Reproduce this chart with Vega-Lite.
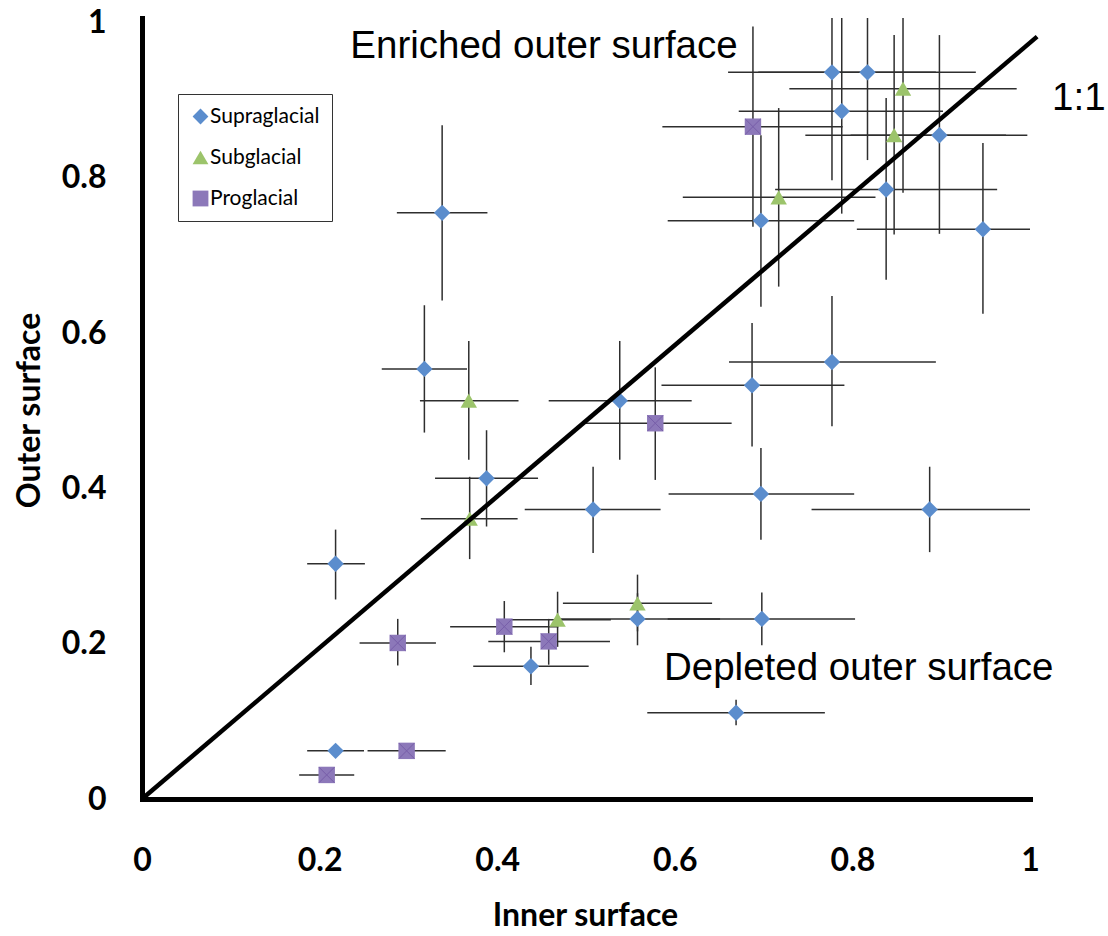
{
  "$schema": "https://vega.github.io/schema/vega-lite/v6.json",
  "width": 888,
  "height": 781,
  "autosize": {"type": "none"},
  "padding": {"left": 142, "top": 18, "right": 78, "bottom": 137},
  "background": "white",
  "config": {
    "view": {"stroke": null},
    "font": "Lato",
    "axis": {
      "grid": false, "ticks": false, "tickSize": 0,
      "domainColor": "black", "domainWidth": 5, "domainCap": "square",
      "labelFont": "Lato", "labelFontWeight": "bold", "labelFontSize": 32, "labelColor": "black",
      "labelFlush": false, "labelOverlap": false,
      "titleFont": "Lato", "titleFontWeight": "bold", "titleFontSize": 32, "titleColor": "black",
      "titleAlign": "center", "titleBaseline": "alphabetic"
    },
    "axisX": {"labelBaseline": "alphabetic", "labelPadding": 71, "titleX": 443, "titleY": 126},
    "axisY": {"labelPadding": 36, "titleX": -103, "titleY": 392, "titleAngle": -90}
  },
  "datasets": {
    "pts": [
      {"type": "Supraglacial", "x": 0.777, "y": 0.936, "xlo": 0.660, "xhi": 0.894, "ylo": 0.797, "yhi": 1.074},
      {"type": "Supraglacial", "x": 0.817, "y": 0.936, "xlo": 0.694, "xhi": 0.939, "ylo": 0.823, "yhi": 1.049},
      {"type": "Supraglacial", "x": 0.788, "y": 0.886, "xlo": 0.672, "xhi": 0.902, "ylo": 0.754, "yhi": 1.019},
      {"type": "Supraglacial", "x": 0.898, "y": 0.855, "xlo": 0.798, "xhi": 0.997, "ylo": 0.728, "yhi": 0.984},
      {"type": "Supraglacial", "x": 0.838, "y": 0.785, "xlo": 0.713, "xhi": 0.963, "ylo": 0.669, "yhi": 0.903},
      {"type": "Supraglacial", "x": 0.697, "y": 0.745, "xlo": 0.592, "xhi": 0.802, "ylo": 0.634, "yhi": 0.855},
      {"type": "Supraglacial", "x": 0.947, "y": 0.734, "xlo": 0.805, "xhi": 1.090, "ylo": 0.625, "yhi": 0.845},
      {"type": "Supraglacial", "x": 0.338, "y": 0.755, "xlo": 0.287, "xhi": 0.389, "ylo": 0.642, "yhi": 0.868},
      {"type": "Supraglacial", "x": 0.318, "y": 0.554, "xlo": 0.270, "xhi": 0.366, "ylo": 0.472, "yhi": 0.636},
      {"type": "Supraglacial", "x": 0.538, "y": 0.513, "xlo": 0.458, "xhi": 0.619, "ylo": 0.437, "yhi": 0.590},
      {"type": "Supraglacial", "x": 0.687, "y": 0.533, "xlo": 0.585, "xhi": 0.791, "ylo": 0.454, "yhi": 0.613},
      {"type": "Supraglacial", "x": 0.777, "y": 0.563, "xlo": 0.661, "xhi": 0.894, "ylo": 0.480, "yhi": 0.648},
      {"type": "Supraglacial", "x": 0.388, "y": 0.413, "xlo": 0.330, "xhi": 0.446, "ylo": 0.351, "yhi": 0.475},
      {"type": "Supraglacial", "x": 0.508, "y": 0.373, "xlo": 0.431, "xhi": 0.584, "ylo": 0.317, "yhi": 0.428},
      {"type": "Supraglacial", "x": 0.697, "y": 0.393, "xlo": 0.593, "xhi": 0.802, "ylo": 0.334, "yhi": 0.452},
      {"type": "Supraglacial", "x": 0.887, "y": 0.373, "xlo": 0.754, "xhi": 1.019, "ylo": 0.318, "yhi": 0.428},
      {"type": "Supraglacial", "x": 0.218, "y": 0.303, "xlo": 0.186, "xhi": 0.251, "ylo": 0.257, "yhi": 0.347},
      {"type": "Supraglacial", "x": 0.558, "y": 0.232, "xlo": 0.465, "xhi": 0.651, "ylo": 0.198, "yhi": 0.265},
      {"type": "Supraglacial", "x": 0.698, "y": 0.232, "xlo": 0.592, "xhi": 0.803, "ylo": 0.198, "yhi": 0.266},
      {"type": "Supraglacial", "x": 0.438, "y": 0.171, "xlo": 0.373, "xhi": 0.503, "ylo": 0.147, "yhi": 0.196},
      {"type": "Supraglacial", "x": 0.669, "y": 0.111, "xlo": 0.569, "xhi": 0.769, "ylo": 0.095, "yhi": 0.128},
      {"type": "Supraglacial", "x": 0.218, "y": 0.062, "xlo": 0.186, "xhi": 0.250, "ylo": 0.059, "yhi": 0.065},
      {"type": "Subglacial", "x": 0.857, "y": 0.915, "xlo": 0.729, "xhi": 0.985, "ylo": 0.781, "yhi": 1.050},
      {"type": "Subglacial", "x": 0.847, "y": 0.855, "xlo": 0.747, "xhi": 0.973, "ylo": 0.727, "yhi": 0.984},
      {"type": "Subglacial", "x": 0.717, "y": 0.775, "xlo": 0.609, "xhi": 0.826, "ylo": 0.660, "yhi": 0.890},
      {"type": "Subglacial", "x": 0.368, "y": 0.513, "xlo": 0.313, "xhi": 0.424, "ylo": 0.437, "yhi": 0.590},
      {"type": "Subglacial", "x": 0.369, "y": 0.361, "xlo": 0.314, "xhi": 0.423, "ylo": 0.309, "yhi": 0.415},
      {"type": "Subglacial", "x": 0.468, "y": 0.231, "xlo": 0.407, "xhi": 0.528, "ylo": 0.196, "yhi": 0.267},
      {"type": "Subglacial", "x": 0.558, "y": 0.252, "xlo": 0.474, "xhi": 0.642, "ylo": 0.216, "yhi": 0.289},
      {"type": "Proglacial", "x": 0.688, "y": 0.866, "xlo": 0.586, "xhi": 0.789, "ylo": 0.737, "yhi": 0.995},
      {"type": "Proglacial", "x": 0.578, "y": 0.484, "xlo": 0.495, "xhi": 0.664, "ylo": 0.411, "yhi": 0.556},
      {"type": "Proglacial", "x": 0.288, "y": 0.201, "xlo": 0.245, "xhi": 0.331, "ylo": 0.172, "yhi": 0.232},
      {"type": "Proglacial", "x": 0.408, "y": 0.222, "xlo": 0.347, "xhi": 0.469, "ylo": 0.189, "yhi": 0.255},
      {"type": "Proglacial", "x": 0.458, "y": 0.203, "xlo": 0.390, "xhi": 0.527, "ylo": 0.173, "yhi": 0.232},
      {"type": "Proglacial", "x": 0.298, "y": 0.062, "xlo": 0.254, "xhi": 0.342, "ylo": 0.059, "yhi": 0.065},
      {"type": "Proglacial", "x": 0.208, "y": 0.031, "xlo": 0.177, "xhi": 0.239, "ylo": 0.028, "yhi": 0.034}
    ],
    "diag": [{"x": 0, "y": 0}, {"x": 1.008, "y": 0.982}],
    "notes": [
      {"label": "Enriched outer surface", "x": 0.2346, "y": 0.9541},
      {"label": "Depleted outer surface", "x": 0.5878, "y": 0.1533},
      {"label": "1:1", "x": 1.0248, "y": 0.8875}
    ]
  },
  "layer": [
    {
      "data": {"name": "pts"},
      "mark": {"type": "rule", "clip": true, "color": "#2e2e2e", "strokeWidth": 1.5},
      "encoding": {
        "x": {"field": "xlo", "type": "quantitative", "scale": {"domain": [0, 1]}, "title": "Inner surface"},
        "x2": {"field": "xhi"},
        "y": {"field": "y", "type": "quantitative", "scale": {"domain": [0, 1.006]}, "title": "Outer surface"}
      }
    },
    {
      "data": {"name": "pts"},
      "mark": {"type": "rule", "clip": true, "color": "#2e2e2e", "strokeWidth": 1.5},
      "encoding": {
        "x": {"field": "x", "type": "quantitative", "scale": {"domain": [0, 1]}, "title": "Inner surface"},
        "y": {"field": "ylo", "type": "quantitative", "scale": {"domain": [0, 1.006]}, "title": "Outer surface"},
        "y2": {"field": "yhi"}
      }
    },
    {
      "data": {"name": "pts"},
      "mark": {"type": "point", "filled": true, "opacity": 1, "size": 270, "strokeWidth": 0},
      "encoding": {
        "x": {
          "field": "x", "type": "quantitative", "scale": {"domain": [0, 1]}, "title": "Inner surface",
          "axis": {"values": [0, 0.2, 0.4, 0.6, 0.8, 1], "format": ".1~f"}
        },
        "y": {
          "field": "y", "type": "quantitative", "scale": {"domain": [0, 1.006]}, "title": "Outer surface",
          "axis": {"values": [0, 0.2, 0.4, 0.6, 0.8, 1], "format": ".1~f"}
        },
        "shape": {
          "field": "type", "type": "nominal",
          "scale": {"domain": ["Supraglacial", "Subglacial", "Proglacial"], "range": ["diamond", "triangle-up", "square"]},
          "legend": {
            "title": null, "orient": "none", "legendX": 36, "legendY": 76, "padding": 12,
            "strokeColor": "#333333", "cornerRadius": 0, "symbolOffset": 0, "labelOffset": -1,
            "rowPadding": 19, "labelFont": "Lato", "labelFontSize": 21, "labelColor": "black",
            "symbolSize": 250, "symbolStrokeWidth": 0
          }
        },
        "color": {
          "field": "type", "type": "nominal",
          "scale": {"domain": ["Supraglacial", "Subglacial", "Proglacial"], "range": ["#5B8DCD", "#9CC46B", "#8C78B9"]},
          "legend": {
            "title": null, "orient": "none", "legendX": 36, "legendY": 76, "padding": 12,
            "strokeColor": "#333333", "cornerRadius": 0, "symbolOffset": 0, "labelOffset": -1,
            "rowPadding": 19, "labelFont": "Lato", "labelFontSize": 21, "labelColor": "black",
            "symbolSize": 250, "symbolStrokeWidth": 0
          }
        }
      }
    },
    {
      "data": {"name": "pts"},
      "transform": [{"filter": "datum.type === 'Proglacial'"}],
      "mark": {"type": "point", "shape": "M-1,-1L1,1M1,-1L-1,1", "filled": false, "size": 240, "stroke": "#7358A6", "strokeWidth": 1, "opacity": 0.8},
      "encoding": {
        "x": {"field": "x", "type": "quantitative", "scale": {"domain": [0, 1]}, "title": "Inner surface"},
        "y": {"field": "y", "type": "quantitative", "scale": {"domain": [0, 1.006]}, "title": "Outer surface"}
      }
    },
    {
      "data": {"name": "diag"},
      "mark": {"type": "line", "clip": false, "color": "black", "strokeWidth": 4.5},
      "encoding": {
        "x": {"field": "x", "type": "quantitative", "scale": {"domain": [0, 1]}, "title": "Inner surface"},
        "y": {"field": "y", "type": "quantitative", "scale": {"domain": [0, 1.006]}, "title": "Outer surface"}
      }
    },
    {
      "data": {"name": "notes"},
      "mark": {"type": "text", "align": "left", "baseline": "alphabetic", "font": "Liberation Sans", "fontSize": 38.5, "color": "black", "clip": false},
      "encoding": {
        "x": {"field": "x", "type": "quantitative", "scale": {"domain": [0, 1]}, "title": "Inner surface"},
        "y": {"field": "y", "type": "quantitative", "scale": {"domain": [0, 1.006]}, "title": "Outer surface"},
        "text": {"field": "label"}
      }
    }
  ]
}
